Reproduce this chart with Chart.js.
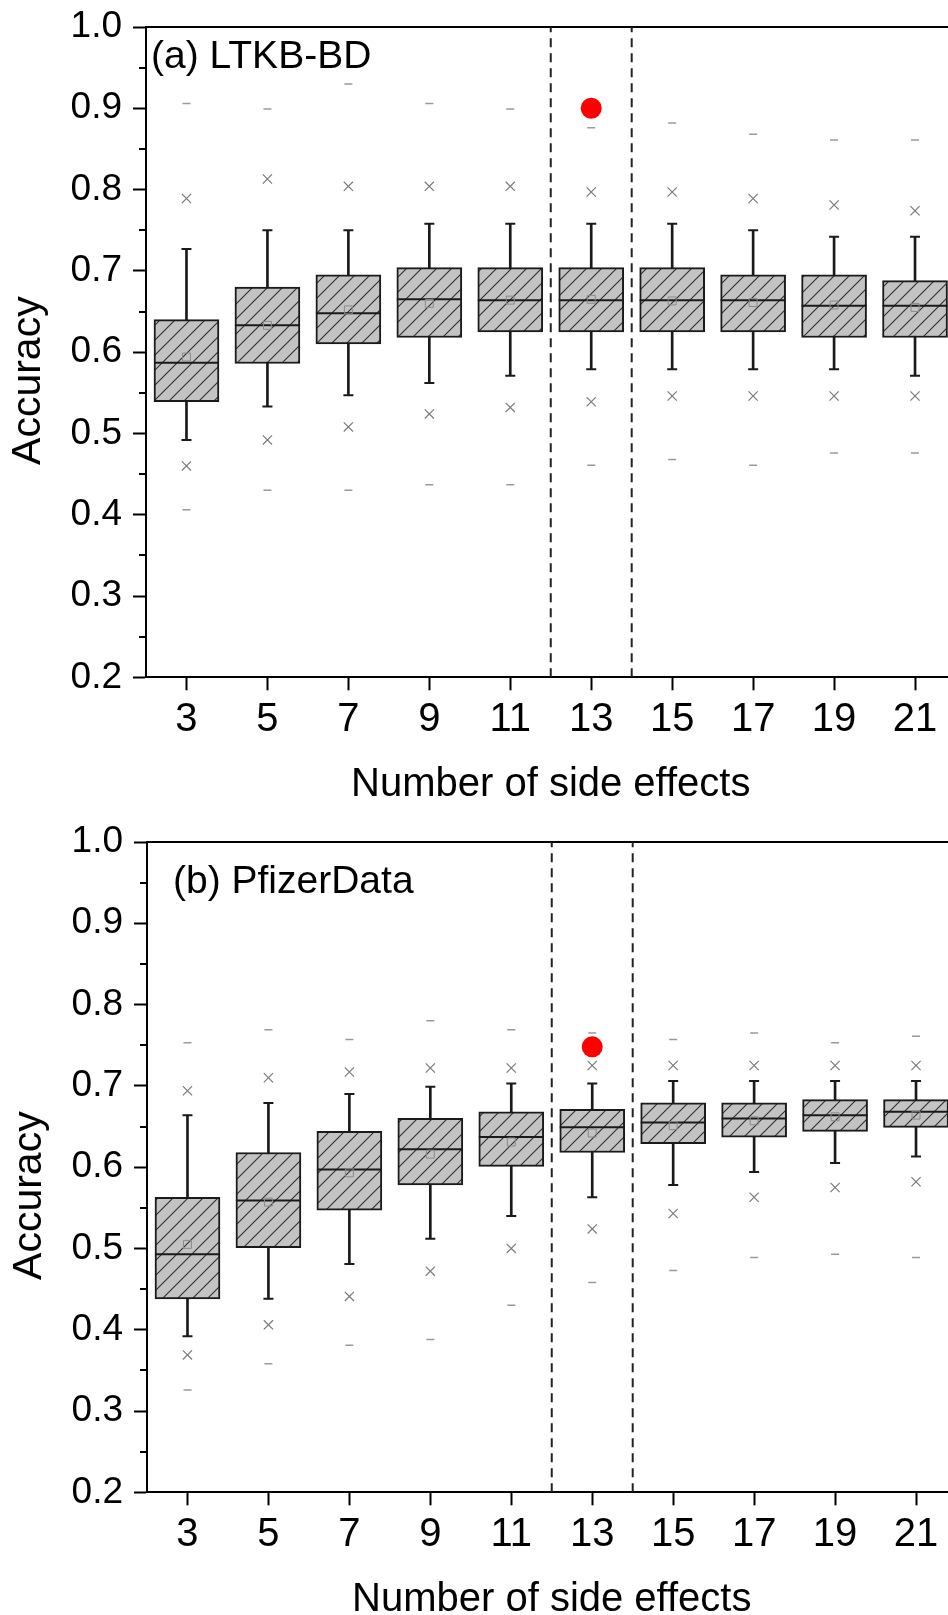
<!DOCTYPE html>
<html>
<head>
<meta charset="utf-8">
<script src="https://cdn.jsdelivr.net/npm/chart.js@4/dist/chart.umd.min.js"></script>
<style>
html,body{margin:0;padding:0;background:#fff;overflow:hidden;width:948px;height:1615px;position:relative;}
.panel{position:absolute;left:0;width:980px;height:815px;}
#pa{top:0;}
#pb{top:815px;left:1px;}
canvas{display:block;}
</style>
</head>
<body>
<div class="panel" id="pa"><canvas id="ca" width="980" height="815"></canvas></div>
<div class="panel" id="pb"><canvas id="cb" width="980" height="815"></canvas></div>
<script>
// ---------- data ----------
const sideEffects = [3, 5, 7, 9, 11, 13, 15, 17, 19, 21];
const xRange = [2, 22];
const dividerX = [12, 14];
const highlightX = [13];
const yTickValues = [0.2, 0.3, 0.4, 0.5, 0.6, 0.7, 0.8, 0.9, 1.0];
const yMinorValues = [0.25, 0.35, 0.45, 0.55, 0.65, 0.75, 0.85, 0.95];
const xTitle = 'Number of side effects';
const yTitle = 'Accuracy';
const panelTitles = ['(a) LTKB-BD', '(b) PfizerData'];

// (a) LTKB-BD
const ltkbMax      = [0.906, 0.899, 0.930, 0.906, 0.899, 0.876, 0.882, 0.868, 0.861, 0.861];
const ltkbUpperX   = [0.789, 0.813, 0.804, 0.804, 0.804, 0.797, 0.797, 0.789, 0.781, 0.774];
const ltkbWhiskHi  = [0.727, 0.750, 0.750, 0.758, 0.758, 0.758, 0.758, 0.750, 0.742, 0.742];
const ltkbQ3       = [0.640, 0.680, 0.695, 0.704, 0.704, 0.704, 0.704, 0.695, 0.695, 0.688];
const ltkbMedian   = [0.587, 0.633, 0.648, 0.665, 0.664, 0.664, 0.664, 0.664, 0.657, 0.657];
const ltkbMean     = [0.594, 0.633, 0.652, 0.660, 0.664, 0.665, 0.663, 0.661, 0.658, 0.655];
const ltkbQ1       = [0.539, 0.586, 0.610, 0.618, 0.625, 0.625, 0.625, 0.625, 0.618, 0.618];
const ltkbWhiskLo  = [0.492, 0.533, 0.547, 0.562, 0.571, 0.579, 0.579, 0.579, 0.579, 0.571];
const ltkbLowerX   = [0.460, 0.492, 0.508, 0.524, 0.532, 0.539, 0.546, 0.546, 0.546, 0.546];
const ltkbMin      = [0.406, 0.430, 0.430, 0.437, 0.437, 0.461, 0.468, 0.461, 0.476, 0.476];
const ltkbHighlight = [0.900];

// (b) PfizerData
const pfzMax      = [0.753, 0.769, 0.757, 0.780, 0.769, 0.765, 0.757, 0.765, 0.753, 0.761];
const pfzUpperX   = [0.694, 0.710, 0.717, 0.722, 0.722, 0.725, 0.725, 0.725, 0.725, 0.725];
const pfzWhiskHi  = [0.664, 0.679, 0.690, 0.699, 0.703, 0.703, 0.706, 0.706, 0.706, 0.706];
const pfzQ3       = [0.563, 0.618, 0.644, 0.660, 0.668, 0.671, 0.679, 0.679, 0.683, 0.683];
const pfzMedian   = [0.493, 0.559, 0.597, 0.622, 0.637, 0.649, 0.655, 0.660, 0.664, 0.668];
const pfzMean     = [0.505, 0.557, 0.593, 0.616, 0.631, 0.642, 0.651, 0.657, 0.662, 0.664];
const pfzQ1       = [0.438, 0.501, 0.547, 0.578, 0.601, 0.618, 0.629, 0.637, 0.644, 0.649];
const pfzWhiskLo  = [0.392, 0.438, 0.481, 0.512, 0.540, 0.563, 0.578, 0.594, 0.605, 0.613];
const pfzLowerX   = [0.369, 0.406, 0.441, 0.472, 0.500, 0.524, 0.543, 0.563, 0.575, 0.582];
const pfzMin      = [0.326, 0.358, 0.381, 0.388, 0.430, 0.458, 0.473, 0.489, 0.493, 0.489];
const pfzHighlight = [0.748];

// ---------- styling / helpers ----------
const FONT = "'Liberation Sans', Arial, Helvetica, sans-serif";

function hatchPattern() {
  const c = document.createElement('canvas');
  c.width = 15; c.height = 15;
  const g = c.getContext('2d');
  g.fillStyle = '#c3c3c3';
  g.fillRect(0, 0, 15, 15);
  g.strokeStyle = '#2e2e2e';
  g.lineWidth = 1.1;
  g.beginPath();
  g.moveTo(0, 15); g.lineTo(15, 0);
  g.moveTo(-2, 2); g.lineTo(2, -2);
  g.moveTo(13, 17); g.lineTo(17, 13);
  g.stroke();
  return g.createPattern(c, 'repeat');
}

const pts = ys => sideEffects.map((x, i) => ({x: x, y: ys[i]}));
const spans = (lo, hi) => sideEffects.map((x, i) => ({x: x, y: [lo[i], hi[i]]}));

function markers(ys, style, radius, color, width, fill, order) {
  return {
    type: 'scatter', showLine: false, data: pts(ys), order: order,
    pointStyle: style, pointRadius: radius, pointHoverRadius: radius,
    pointBorderColor: color, borderColor: color, pointBorderWidth: width,
    pointBackgroundColor: fill, backgroundColor: fill
  };
}

const minorTicks = {
  id: 'minorTicks',
  afterDraw(chart) {
    const s = chart.scales.y, ctx = chart.ctx;
    ctx.save();
    ctx.strokeStyle = '#000';
    ctx.lineWidth = 2;
    ctx.beginPath();
    yMinorValues.forEach(v => {
      const p = Math.round(s.getPixelForValue(v));
      ctx.moveTo(s.right - 7, p);
      ctx.lineTo(s.right, p);
    });
    ctx.stroke();
    ctx.restore();
  }
};

const panelLabel = {
  id: 'panelLabel',
  afterDraw(chart, args, opts) {
    const ctx = chart.ctx, a = chart.chartArea;
    ctx.save();
    ctx.font = opts.size + 'px ' + FONT;
    ctx.fillStyle = '#000';
    ctx.textAlign = 'left';
    ctx.textBaseline = 'alphabetic';
    ctx.fillText(opts.text, a.left + opts.dx, a.top + opts.dy);
    ctx.restore();
  }
};

function build(canvasId, s, label, dx, dy) {
  const pattern = hatchPattern();
  const datasets = [
    {type: 'bar', data: spans(s.wLo, s.wHi), backgroundColor: '#1a1a1a', borderWidth: 0,
     barThickness: 2, grouped: false, order: 20},
    {type: 'bar', data: spans(s.q1, s.q3), backgroundColor: pattern, borderColor: '#1a1a1a',
     borderWidth: 2, borderSkipped: false, barThickness: 65, grouped: false, order: 19},
    markers(s.median, 'line', 32.5, '#1a1a1a', 2, '#1a1a1a', 18),
    markers(s.wHi, 'line', 5, '#1a1a1a', 2, '#1a1a1a', 18),
    markers(s.wLo, 'line', 5, '#1a1a1a', 2, '#1a1a1a', 18),
    markers(s.mean, 'rect', 5.6, '#8a8a8a', 1, 'rgba(0,0,0,0)', 17),
    markers(s.upX, 'crossRot', 6.5, '#7a7a7a', 1.2, 'rgba(0,0,0,0)', 17),
    markers(s.loX, 'crossRot', 6.5, '#7a7a7a', 1.2, 'rgba(0,0,0,0)', 17),
    markers(s.max, 'line', 4, '#9a9a9a', 1.5, '#9a9a9a', 17),
    markers(s.min, 'line', 4, '#9a9a9a', 1.5, '#9a9a9a', 17)
  ];
  dividerX.forEach(x => datasets.push({
    type: 'line', data: [{x: x, y: yTickValues[0]}, {x: x, y: yTickValues[yTickValues.length - 1]}],
    borderColor: '#222', borderWidth: 2, borderDash: [9, 6], pointRadius: 0, fill: false, order: 15
  }));
  datasets.push({
    type: 'scatter', showLine: false, order: 1,
    data: highlightX.map((x, i) => ({x: x, y: s.best[i]})),
    pointStyle: 'circle', pointRadius: 10.5, pointHoverRadius: 10.5,
    pointBackgroundColor: '#ff0000', backgroundColor: '#ff0000', pointBorderWidth: 0, borderWidth: 0
  });

  const axisGrid = () => ({display: true, offset: false, drawOnChartArea: false, drawTicks: true,
                    tickLength: 13, tickWidth: 2, tickColor: '#000'});
  const axisBorder = () => ({display: true, width: 2, color: '#000'});

  return new Chart(document.getElementById(canvasId), {
    type: 'bar',
    data: {datasets: datasets},
    plugins: [minorTicks, panelLabel],
    options: {
      responsive: false,
      animation: false,
      devicePixelRatio: 1,
      events: [],
      layout: {autoPadding: false, padding: {top: 27, left: 0, right: 24.5, bottom: 0}},
      plugins: {
        legend: {display: false},
        tooltip: {enabled: false},
        panelLabel: {text: label, size: 39, dx: dx, dy: dy}
      },
      scales: {
        x: {
          type: 'linear', position: 'bottom', min: xRange[0], max: xRange[1], offset: false,
          afterBuildTicks: sc => { sc.ticks = sideEffects.map(v => ({value: v})); },
          afterFit: sc => { sc.height = 137.7; },
          ticks: {font: {family: FONT, size: 40}, color: '#000', padding: 6, autoSkip: false,
                  maxRotation: 0, callback: v => String(v)},
          grid: axisGrid(),
          border: axisBorder(),
          title: {display: true, text: xTitle, color: '#000', font: {family: FONT, size: 40},
                  padding: {top: 0, bottom: 6}}
        },
        xTop: {
          type: 'linear', position: 'top', min: xRange[0], max: xRange[1], offset: false,
          afterFit: sc => { sc.height = 0; },
          ticks: {display: false},
          grid: {display: false, offset: false, drawOnChartArea: false, drawTicks: false},
          border: axisBorder()
        },
        y: {
          type: 'linear', position: 'left', min: yTickValues[0], max: yTickValues[yTickValues.length - 1],
          beginAtZero: false,
          afterBuildTicks: sc => { sc.ticks = yTickValues.map(v => ({value: v})); },
          afterFit: sc => { sc.width = 146; },
          ticks: {font: {family: FONT, size: 37, lineHeight: 0.8}, color: '#000', padding: 11,
                  autoSkip: false, callback: v => Number(v).toFixed(1)},
          grid: axisGrid(),
          border: axisBorder(),
          title: {display: true, text: yTitle + '     ', color: '#000', font: {family: FONT, size: 41},
                  padding: {top: 4, bottom: 0}}
        }
      }
    }
  });
}

build('ca', {
  max: ltkbMax, upX: ltkbUpperX, wHi: ltkbWhiskHi, q3: ltkbQ3, median: ltkbMedian, mean: ltkbMean,
  q1: ltkbQ1, wLo: ltkbWhiskLo, loX: ltkbLowerX, min: ltkbMin, best: ltkbHighlight
}, panelTitles[0], 5, 41);

build('cb', {
  max: pfzMax, upX: pfzUpperX, wHi: pfzWhiskHi, q3: pfzQ3, median: pfzMedian, mean: pfzMean,
  q1: pfzQ1, wLo: pfzWhiskLo, loX: pfzLowerX, min: pfzMin, best: pfzHighlight
}, panelTitles[1], 26, 51);
</script>
</body>
</html>
